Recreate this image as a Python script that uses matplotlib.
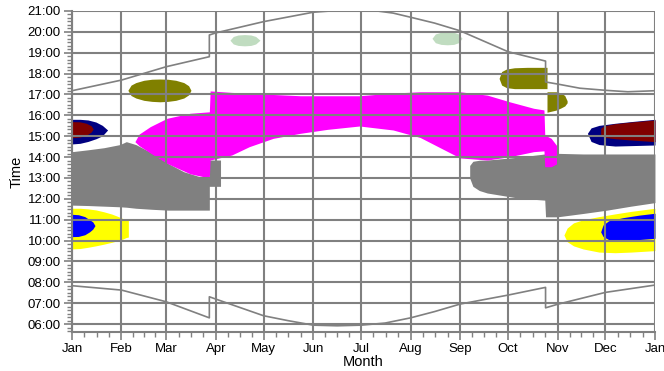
import matplotlib
matplotlib.use("Agg")
import matplotlib.pyplot as plt
from matplotlib.ticker import FixedLocator, MultipleLocator

plt.rcParams['font.family'] = ['Liberation Sans', 'DejaVu Sans']

month_labels = ['Jan', 'Feb', 'Mar', 'Apr', 'May', 'Jun', 'Jul', 'Aug', 'Sep', 'Oct', 'Nov', 'Dec', 'Jan']
month_start = [0, 31, 59, 90, 120, 151, 181, 212, 243, 273, 304, 334, 365]
hours = list(range(6, 22))

# sunrise / sunset (day of year, decimal hour)
sun_days = [0, 31, 59, 86, 86, 90, 120, 135, 151, 166, 181, 196, 212, 227, 243, 273, 296.5, 296.5, 304, 334, 365]
sunrise = [7.84, 7.63, 7.07, 6.30, 7.31, 7.20, 6.40, 6.17, 5.95, 5.92, 5.95, 6.05, 6.30, 6.60, 6.96, 7.39, 7.76, 6.78, 6.95, 7.52, 7.87]
set_days = [0, 31, 59, 86, 86, 90, 120, 151, 162, 176, 191, 201, 212, 227, 243, 273, 296.5, 296.5, 304, 318, 334, 348, 365]
sunset = [17.18, 17.69, 18.33, 18.81, 19.85, 19.95, 20.49, 20.94, 21.0, 21.06, 21.0, 20.9, 20.7, 20.42, 20.05, 19.05, 18.6, 17.6, 17.5, 17.3, 17.2, 17.13, 17.18]

# grey shadow areas
grey_l_days = [0, 10, 20, 30, 34, 40, 50, 60, 70, 80, 86, 86, 93]
grey_l_hi = [14.26, 14.35, 14.45, 14.6, 14.74, 14.6, 14.2, 13.7, 13.3, 13.06, 13.0, 13.86, 13.86]
grey_l_lo = [11.70, 11.68, 11.65, 11.62, 11.6, 11.55, 11.5, 11.46, 11.46, 11.46, 11.46, 12.6, 12.6]

grey_r_days = [249, 251, 255, 260, 280, 296, 296.5, 304, 320, 335, 350, 365]
grey_r_hi = [13.6, 13.8, 13.85, 13.86, 14.0, 14.15, 14.15, 14.18, 14.15, 14.15, 14.15, 14.15]
grey_r_lo = [13.0, 12.6, 12.4, 12.28, 12.03, 11.94, 11.14, 11.14, 11.3, 11.46, 11.65, 11.82]

# magenta
mag_days = [39.4, 42, 49, 59.5, 74, 86, 86.5, 100, 111, 126, 143, 160, 180, 201, 218, 243, 260, 274, 289, 295.5, 296, 300, 304]
mag_hi = [14.74, 15.1, 15.46, 15.86, 16.1, 16.17, 17.17, 17.1, 17.06, 17.0, 16.94, 16.94, 16.94, 17.07, 17.13, 17.13, 16.97, 16.65, 16.34, 16.26, 15.06, 14.9, 14.5]
mag_lo = [14.74, 14.55, 14.2, 13.7, 13.2, 13.0, 13.86, 14.1, 14.5, 14.9, 15.14, 15.33, 15.49, 15.3, 14.94, 13.96, 13.86, 14.02, 14.26, 14.3, 13.54, 13.54, 13.7]

# olive
olive_l_days = [35, 37, 40, 45, 50, 55, 60, 65, 70, 73, 74.5]
olive_l_hi = [17.2, 17.45, 17.57, 17.68, 17.73, 17.74, 17.73, 17.68, 17.57, 17.42, 17.2]
olive_l_lo = [17.2, 16.95, 16.83, 16.72, 16.67, 16.65, 16.67, 16.72, 16.83, 16.98, 17.2]
olive_r_days = [267.4, 269, 272, 277, 285, 297.4]
olive_r_hi = [17.77, 18.1, 18.22, 18.28, 18.3, 18.3]
olive_r_lo = [17.77, 17.45, 17.33, 17.28, 17.28, 17.28]
olive_r2_days = [297.4, 303, 306, 308.5, 310]
olive_r2_hi = [17.13, 17.13, 17.08, 16.95, 16.7]
olive_r2_lo = [16.15, 16.25, 16.35, 16.45, 16.6]

# light green
green_l_days = [98.9, 101, 104, 108, 112, 115, 117.7]
green_l_hi = [19.6, 19.78, 19.85, 19.87, 19.85, 19.78, 19.6]
green_l_lo = [19.6, 19.42, 19.35, 19.33, 19.35, 19.42, 19.6]
green_r_days = [225.4, 227.5, 231, 235, 239, 242, 244.2]
green_r_hi = [19.69, 19.9, 19.98, 20.0, 19.98, 19.9, 19.69]
green_r_lo = [19.69, 19.48, 19.4, 19.38, 19.4, 19.48, 19.69]

# navy / maroon
navy_l_days = [0, 5, 10, 15, 19, 22.3]
navy_l_hi = [15.81, 15.81, 15.78, 15.68, 15.52, 15.3]
navy_l_lo = [14.63, 14.66, 14.75, 14.88, 15.02, 15.3]
red_l_days = [0, 5, 9, 12, 13.3]
red_l_hi = [15.70, 15.69, 15.62, 15.5, 15.35]
red_l_lo = [14.93, 14.96, 15.05, 15.2, 15.35]
navy_r_days = [322.7, 325, 330, 340, 350, 365]
navy_r_hi = [15.14, 15.4, 15.52, 15.62, 15.7, 15.81]
navy_r_lo = [15.14, 14.75, 14.6, 14.53, 14.55, 14.58]
red_r_days = [331, 333, 340, 350, 365]
red_r_hi = [15.38, 15.5, 15.6, 15.68, 15.78]
red_r_lo = [15.06, 14.95, 14.88, 14.82, 14.74]

# yellow / blue
yel_l_days = [0, 5, 10, 15, 20, 25, 29, 32, 34, 35.3]
yel_l_hi = [11.55, 11.55, 11.52, 11.47, 11.38, 11.27, 11.15, 11.05, 11.0, 10.99]
yel_l_lo = [9.6, 9.62, 9.68, 9.75, 9.83, 9.92, 10.0, 10.08, 10.15, 10.17]
blue_l_days = [0, 4, 8, 11, 13, 14.4]
blue_l_hi = [11.26, 11.24, 11.15, 11.0, 10.9, 10.72]
blue_l_lo = [10.19, 10.2, 10.28, 10.42, 10.55, 10.72]
yel_r_days = [308, 310, 314, 320, 330, 340, 350, 365]
yel_r_hi = [10.27, 10.6, 10.85, 11.0, 11.15, 11.28, 11.4, 11.55]
yel_r_lo = [10.27, 9.95, 9.75, 9.6, 9.45, 9.42, 9.45, 9.52]
blue_r_days = [331, 332.5, 336, 345, 355, 365]
blue_r_hi = [10.42, 10.75, 10.95, 11.1, 11.22, 11.31]
blue_r_lo = [10.42, 10.2, 10.05, 10.0, 10.05, 10.11]

areas = [
    (grey_l_days, grey_l_lo, grey_l_hi, '#808080'),
    (grey_r_days, grey_r_lo, grey_r_hi, '#808080'),
    (mag_days, mag_lo, mag_hi, '#ff00ff'),
    (olive_l_days, olive_l_lo, olive_l_hi, '#808000'),
    (olive_r_days, olive_r_lo, olive_r_hi, '#808000'),
    (olive_r2_days, olive_r2_lo, olive_r2_hi, '#808000'),
    (green_l_days, green_l_lo, green_l_hi, '#c0dcc0'),
    (green_r_days, green_r_lo, green_r_hi, '#c0dcc0'),
    (navy_l_days, navy_l_lo, navy_l_hi, '#000080'),
    (red_l_days, red_l_lo, red_l_hi, '#800000'),
    (navy_r_days, navy_r_lo, navy_r_hi, '#000080'),
    (red_r_days, red_r_lo, red_r_hi, '#800000'),
    (yel_l_days, yel_l_lo, yel_l_hi, '#ffff00'),
    (blue_l_days, blue_l_lo, blue_l_hi, '#0000ff'),
    (yel_r_days, yel_r_lo, yel_r_hi, '#ffff00'),
    (blue_r_days, blue_r_lo, blue_r_hi, '#0000ff'),
]

fig = plt.figure(figsize=(6.64, 3.71), dpi=100)
ax = fig.add_axes([0.1084, 0.105, 0.878, 0.8654])

for d, lo, hi, c in areas:
    ax.fill_between(d, lo, hi, color=c, linewidth=0, zorder=0.2)

ax.plot(sun_days, sunrise, color='#808080', lw=1.2, zorder=2)
ax.plot(set_days, sunset, color='#808080', lw=1.2, zorder=2)

ax.set_xlim(0, 365)
ax.set_ylim(5.62, 21)

ax.xaxis.set_major_locator(FixedLocator(month_start))
ax.set_xticklabels(month_labels)
minor_x = []
for i in range(12):
    n = month_start[i + 1] - month_start[i]
    minor_x += [month_start[i] + k * n / 4 for k in (1, 2, 3)]
ax.xaxis.set_minor_locator(FixedLocator(minor_x))

ax.yaxis.set_major_locator(FixedLocator(hours))
ax.set_yticklabels(['%02d:00' % h for h in hours])
ax.yaxis.set_minor_locator(MultipleLocator(1 / 6))

ax.set_axisbelow(True)
ax.grid(True, which='major', color='#808080', lw=1.5)
for s in ['top', 'right']:
    ax.spines[s].set_visible(False)
for s in ['left', 'bottom']:
    ax.spines[s].set_color('#808080')
    ax.spines[s].set_linewidth(1.5)

ax.tick_params(which='major', length=6, width=1.2, color='#808080', labelsize=9.5, pad=2)
ax.tick_params(which='minor', length=3.5, width=1, color='#808080')

ax.set_xlabel('Month', fontsize=10.5, labelpad=0)
ax.set_ylabel('Time', fontsize=10.5, labelpad=3)

fig.savefig('out.png', dpi=100)
